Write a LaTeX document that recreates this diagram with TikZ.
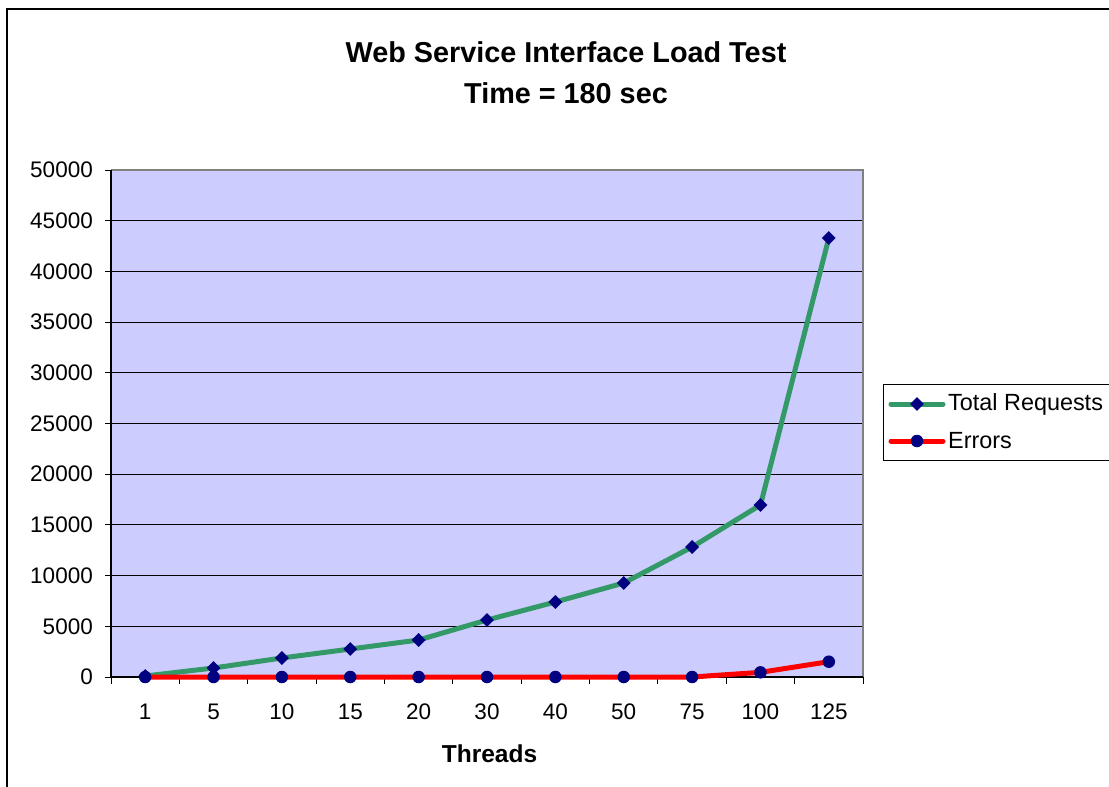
\documentclass[tikz,border=0pt]{standalone}
\usepackage{fontspec}
\setmainfont{Liberation Sans}
\usetikzlibrary{shapes.geometric}
\definecolor{plotbg}{HTML}{CCCCFF}
\definecolor{reqgreen}{HTML}{339966}
\definecolor{errred}{HTML}{FF0000}
\definecolor{marknavy}{HTML}{000080}
\definecolor{edgegray}{HTML}{808080}
\tikzset{
  ticklabel/.style={font=\fontsize{22.5}{27}\selectfont, inner sep=0pt},
  legendlabel/.style={font=\fontsize{23.4}{28}\selectfont, inner sep=0pt},
  axistitle/.style={font=\fontsize{24.5}{29}\selectfont\bfseries, inner sep=0pt},
  charttitle/.style={font=\fontsize{28.8}{41}\selectfont\bfseries, align=center, inner sep=0pt},
  seriesline/.style={line width=5pt, line join=round, line cap=round},
  diamondmark/.style={diamond, fill=marknavy, inner sep=0pt, minimum size=14pt},
  circlemark/.style={circle, fill=marknavy, inner sep=0pt, minimum size=12.5pt},
  gridline/.style={black, line width=0.9pt},
}
\begin{document}
\begin{tikzpicture}[x=1pt, y=-1pt]
  \useasboundingbox (0,0) rectangle (1109,787);
  % chart frame (runs past the page on the right and bottom)
  \draw[line width=1.3pt] (7,800) -- (7,9) -- (1120,9);

  % title
  \node[charttitle] (title) at (566,73) {Web Service Interface Load Test\\Time = 180 sec};

  % plot area
  \fill[plotbg] (111,170) rectangle (863,677);
  \foreach \k in {1,...,9}
    \draw[gridline] (111,{677-\k*50.7}) -- (863,{677-\k*50.7});
  \draw[edgegray, line width=1.3pt] (111,170) -- (863,170) -- (863,677);
  \draw[black, line width=1.3pt] (111,170) -- (111,677) -- (863,677);

  % y axis ticks and labels
  \foreach \lab [count=\k from 0] in {0,5000,10000,15000,20000,25000,30000,35000,40000,45000,50000} {
    \draw[line width=1pt] (105,{677-\k*50.7}) -- (111,{677-\k*50.7});
    \node[ticklabel, anchor=east] (ylab\k) at (93,{677-\k*50.7}) {\lab};
  }

  % x axis ticks and category labels
  \foreach \j in {0,...,11}
    \draw[line width=1pt] ({111+\j*68.364},677) -- ({111+\j*68.364},684);
  \foreach \c [count=\i] in {1,5,10,15,20,30,40,50,75,100,125}
    \node[ticklabel] (xlab\i) at ({111+(\i-0.5)*68.364},712) {\c};
  \node[axistitle] (xtitle) at (489.5,754) {Threads};

  % data points (values scaled to the 0--50000 axis: 507 units per 50000)
  \foreach \v [count=\i] in {0.99,8.88,18.74,27.61,36.49,56.21,73.96,92.70,128.21,169.63,432.94}
    \coordinate (t\i) at ({111+(\i-0.5)*68.364},{677-\v*1.014});
  \foreach \v [count=\i] in {0,0,0,0,0,0,0,0,0,4.60,15.10}
    \coordinate (e\i) at ({111+(\i-0.5)*68.364},{677-\v*1.014});

  % Total Requests series
  \draw[seriesline, reqgreen] (t1) \foreach \i in {2,...,11} { -- (t\i) };
  \foreach \i in {1,...,11}
    \node[diamondmark] (tm\i) at (t\i) {};

  % Errors series
  \draw[seriesline, errred] (e1) \foreach \i in {2,...,11} { -- (e\i) };
  \foreach \i in {1,...,11}
    \node[circlemark] (em\i) at (e\i) {};

  % legend
  \draw[line width=1pt] (883.5,384.5) rectangle (1120,460.5);
  \coordinate (la1) at (891,404);
  \coordinate (lb1) at (943,404);
  \coordinate (la2) at (891,441);
  \coordinate (lb2) at (943,441);
  \draw[seriesline, reqgreen] (la1) -- (lb1);
  \node[diamondmark] (lgm1) at (917,404) {};
  \node[legendlabel, anchor=west] (lgt1) at (948,404) {Total Requests};
  \draw[seriesline, errred] (la2) -- (lb2);
  \node[circlemark] (lgm2) at (917,441) {};
  \node[legendlabel, anchor=west] (lgt2) at (948,441) {Errors};
\end{tikzpicture}
\end{document}
